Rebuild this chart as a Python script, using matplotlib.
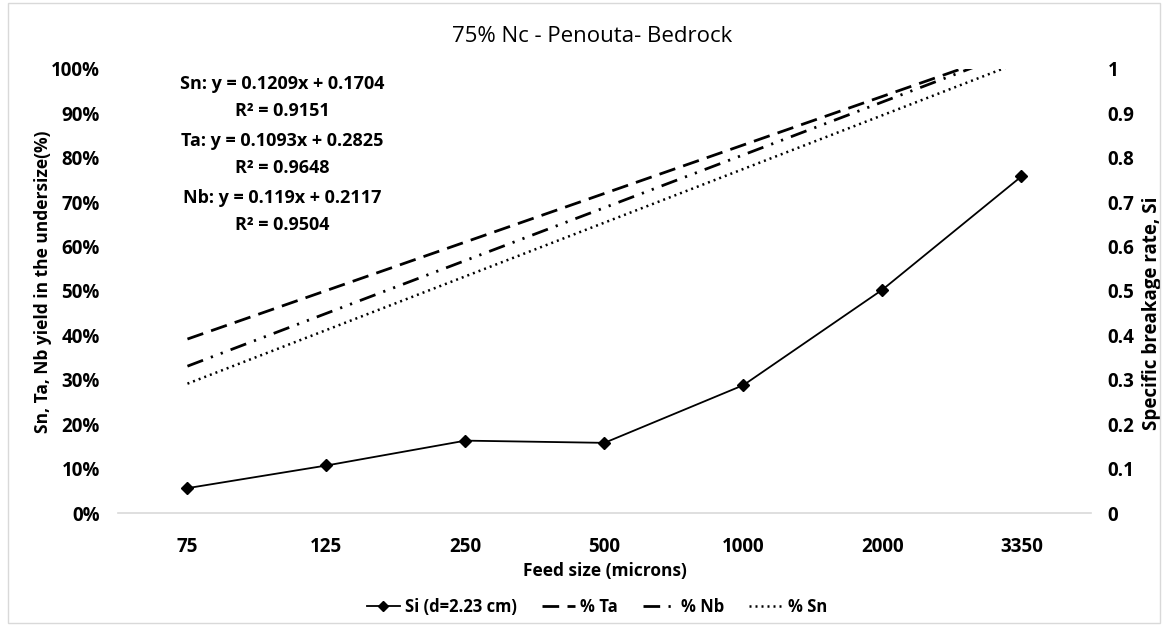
import numpy as np
from matplotlib import pyplot as plt
from matplotlib.ticker import PercentFormatter, MultipleLocator
from matplotlib.lines import Line2D
from matplotlib.patches import Rectangle

plt.rcParams['font.family'] = ['Open Sans', 'DejaVu Sans']

# feed sizes (categorical x axis)
feed_sizes = ['75', '125', '250', '500', '1000', '2000', '3350']

# specific breakage rate, secondary axis
si_values = [0.056, 0.107, 0.163, 0.158, 0.288, 0.503, 0.758]

# linear trendlines fitted on category index (1..n)
trend_names = ['Sn', 'Ta', 'Nb']
trend_slopes = [0.1209, 0.1093, 0.119]
trend_intercepts = [0.1704, 0.2825, 0.2117]
trend_r2 = [0.9151, 0.9648, 0.9504]

x = np.arange(1, len(feed_sizes) + 1)

fig = plt.figure(figsize=(11.68, 6.26), dpi=100)
ax = fig.add_axes([0.101, 0.1805, 0.833, 0.7093])
ax2 = ax.twinx()

styles = {
    'Ta': dict(linestyle=(0, (6, 3)), lw=2.0),
    'Nb': dict(linestyle=(0, (6, 3, 0.8, 3, 0.8, 3)), lw=2.0),
    'Sn': dict(linestyle=(0, (0.8, 1.6)), lw=1.8),
}
for name, a, b in zip(trend_names, trend_slopes, trend_intercepts):
    ax.plot(x, a * x + b, color='black', **styles[name])

ax2.plot(x, si_values, color='black', lw=1.3, marker='D', markersize=6)

ax.set_xlim(0.5, len(feed_sizes) + 0.5)
ax.set_ylim(0, 1)
ax2.set_ylim(0, 1)
ax.yaxis.set_major_locator(MultipleLocator(0.1))
ax.yaxis.set_major_formatter(PercentFormatter(1.0, decimals=0))
ax2.yaxis.set_major_locator(MultipleLocator(0.1))
ax2.yaxis.set_major_formatter(plt.FuncFormatter(lambda v, p: '{:g}'.format(round(v, 1))))
ax.set_xticks(x)
ax.set_xticklabels(feed_sizes)

for a in (ax, ax2):
    for s in a.spines.values():
        s.set_visible(False)
    a.tick_params(length=0, labelsize=13.5)
    for lbl in a.get_xticklabels() + a.get_yticklabels():
        lbl.set_fontweight('bold')
ax.spines['bottom'].set_visible(True)
ax.spines['bottom'].set_color('#d9d9d9')
ax.spines['bottom'].set_linewidth(1.2)
ax.tick_params(axis='x', pad=17)
ax.tick_params(axis='y', pad=13)
ax2.tick_params(axis='y', pad=12)

fig.text(0.507, 0.942, '75% Nc - Penouta- Bedrock', fontsize=16, ha='center', va='center')
ax.set_xlabel('Feed size (microns)', fontsize=12.5, fontweight='bold', labelpad=4)
ax.set_ylabel('Sn, Ta, Nb yield in the undersize(%)', fontsize=12.5, fontweight='bold')
ax2.set_ylabel('Specific breakage rate, Si', fontsize=13.5, fontweight='bold')
ax.yaxis.set_label_coords(-0.068, 0.52)
ax2.yaxis.set_label_coords(1.052, 0.45)

# trendline equations
ey = 0.966
for name, a, b, r2 in zip(trend_names, trend_slopes, trend_intercepts, trend_r2):
    ax.text(0.169, ey, '{}: y = {:g}x + {:g}'.format(name, a, b), transform=ax.transAxes,
            ha='center', va='center', fontsize=13, fontweight='bold')
    ax.text(0.169, ey - 0.061, 'R² = {:.4f}'.format(r2), transform=ax.transAxes,
            ha='center', va='center', fontsize=13, fontweight='bold')
    ey -= 0.128

handles = [
    Line2D([], [], color='black', lw=1.3, marker='D', markersize=5),
    Line2D([], [], color='black', **styles['Ta']),
    Line2D([], [], color='black', **styles['Nb']),
    Line2D([], [], color='black', **styles['Sn']),
]
labels = ['Si (d=2.23 cm)', '% Ta', '% Nb', '% Sn']
leg = fig.legend(handles, labels, loc='center', bbox_to_anchor=(0.511, 0.03), ncol=4,
                 frameon=False, handlelength=2.0, columnspacing=1.5, handletextpad=0.3,
                 prop=dict(size=12, weight='bold'))

fig.patches.append(Rectangle((0.007, 0.005), 0.986, 0.99, transform=fig.transFigure,
                             fill=False, edgecolor='#d9d9d9', lw=1))

fig.savefig('out.png', dpi=100)
